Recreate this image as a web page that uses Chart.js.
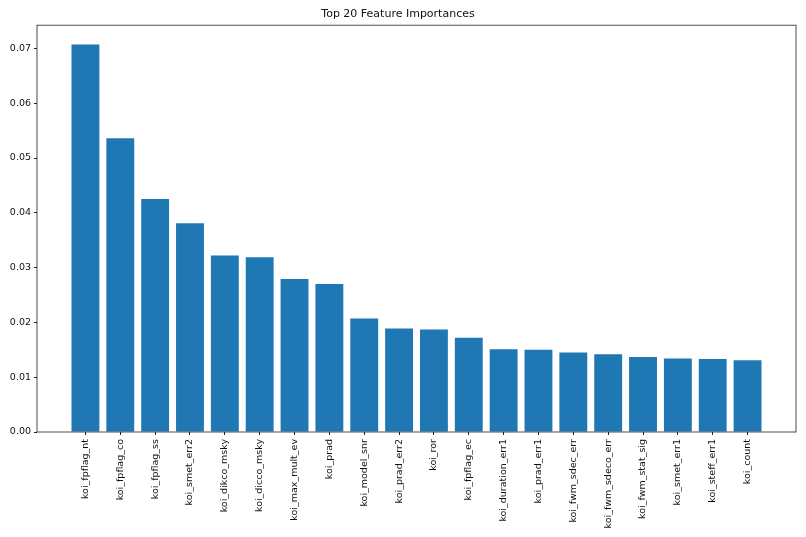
<!DOCTYPE html>
<html>
<head>
<meta charset="utf-8">
<script src="https://cdn.jsdelivr.net/npm/chart.js@4"></script>
<style>
  html, body { margin: 0; padding: 0; background: #fff; }
  #wrap { width: 806px; height: 537px; }
</style>
</head>
<body>
<div id="wrap"><canvas id="chart" width="806" height="537"></canvas></div>
<script>
// ── DATA ──────────────────────────────────────────────────────────────────────
const features = [
  'koi_fpflag_nt', 'koi_fpflag_co', 'koi_fpflag_ss', 'koi_smet_err2',
  'koi_dikco_msky', 'koi_dicco_msky', 'koi_max_mult_ev', 'koi_prad',
  'koi_model_snr', 'koi_prad_err2', 'koi_ror', 'koi_fpflag_ec',
  'koi_duration_err1', 'koi_prad_err1', 'koi_fwm_sdec_err', 'koi_fwm_sdeco_err',
  'koi_fwm_stat_sig', 'koi_smet_err1', 'koi_steff_err1', 'koi_count'
];
const importances = [
  0.0707, 0.0536, 0.0425, 0.0381, 0.0322, 0.0319, 0.0279, 0.0270,
  0.0207, 0.0189, 0.0187, 0.0172, 0.0151, 0.0150, 0.0145, 0.0142,
  0.0137, 0.0134, 0.0133, 0.0131
];
const yTicks = [0, 0.01, 0.02, 0.03, 0.04, 0.05, 0.06, 0.07];

const FONT = "'DejaVu Sans', sans-serif";

// ── FRAME (matplotlib spines on all four sides) ──────────────────────────────
const framePlugin = {
  id: 'frame',
  afterDraw(chart) {
    const a   = chart.chartArea;
    const ctx = chart.ctx;
    ctx.save();
    ctx.strokeStyle = '#222';
    ctx.lineWidth   = 0.8;
    ctx.strokeRect(a.left, a.top, a.right - a.left, a.bottom - a.top);
    ctx.restore();
  }
};

// ── CHART ─────────────────────────────────────────────────────────────────────
const ymax = Math.max(...importances) * 1.05;
const xpad = (features.length - 1 + 0.8) * 0.05;

new Chart(document.getElementById('chart'), {
  type: 'bar',
  data: {
    datasets: [{
      data:            features.map((f, i) => ({ x: i, y: importances[i] })),
      backgroundColor: '#1f77b4',
      borderWidth:     0,
      barPercentage:   0.8,
      categoryPercentage: 1.0
    }]
  },
  options: {
    responsive: false,
    animation:  false,
    layout: { padding: { left: 0, right: 10, top: 0, bottom: 0 } },
    plugins: {
      legend:  { display: false },
      tooltip: { enabled: false },
      title: {
        display: true,
        text:    'Top 20 Feature Importances',
        color:   '#111',
        font:    { family: FONT, size: 11, weight: 'normal', lineHeight: 1.2 },
        padding: { top: 8, bottom: 4 }
      }
    },
    scales: {
      x: {
        type:   'linear',
        offset: false,
        min:    -0.4 - xpad,
        max:    features.length - 1 + 0.4 + xpad,
        grid:   { offset: false, drawOnChartArea: false, drawTicks: true, tickLength: 3, color: '#222' },
        border: { display: false },
        afterBuildTicks: s => { s.ticks = features.map((f, i) => ({ value: i })); },
        afterFit: s => { s.height = 105; },
        ticks: {
          autoSkip:    false,
          maxRotation: 90,
          minRotation: 90,
          padding:     4,
          color:       '#111',
          font:        { family: FONT, size: 9.5 },
          callback:    v => features[v]
        }
      },
      y: {
        min:  0,
        max:  ymax,
        grid: { drawOnChartArea: false, drawTicks: true, tickLength: 3, color: '#222' },
        border: { display: false },
        afterBuildTicks: s => { s.ticks = yTicks.map(v => ({ value: v })); },
        afterFit: s => { s.width = 37; },
        ticks: {
          padding:  3,
          color:    '#111',
          font:     { family: FONT, size: 9.5 },
          callback: v => v.toFixed(2)
        }
      }
    }
  },
  plugins: [framePlugin]
});
</script>
</body>
</html>
